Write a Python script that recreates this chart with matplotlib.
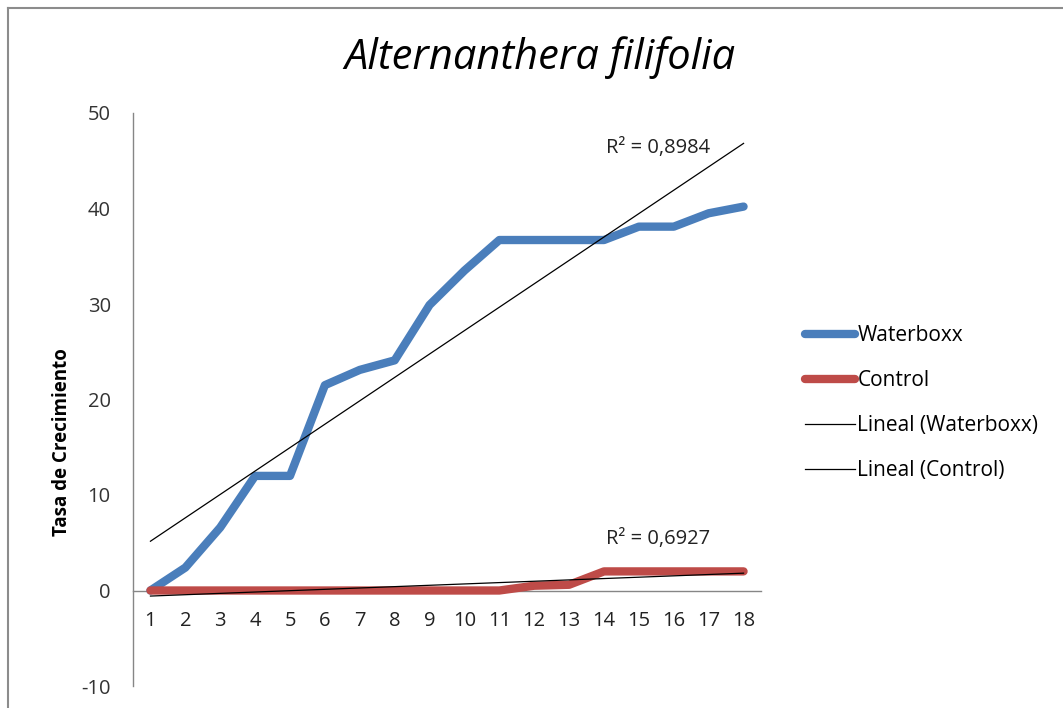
import numpy as np
import matplotlib
matplotlib.use("Agg")
import matplotlib.pyplot as plt
from matplotlib.lines import Line2D

plt.rcParams['font.family'] = ['Open Sans', 'DejaVu Sans']
plt.rcParams['axes.unicode_minus'] = False

# Data
days = list(range(1, 19))
waterboxx = [0, 2.4, 6.6, 12.0, 12.0, 21.5, 23.1, 24.1, 29.9, 33.5, 36.7, 36.7, 36.7, 36.7, 38.1, 38.1, 39.5, 40.2]
control = [0, 0, 0, 0, 0, 0, 0, 0, 0, 0, 0, 0.5, 0.6, 2.0, 2.0, 2.0, 2.0, 2.0]
r2_labels = ["R\u00b2 = 0,8984", "R\u00b2 = 0,6927"]
title = "Alternanthera filifolia"
ylabel = "Tasa de Crecimiento"
legend_labels = ["Waterboxx", "Control", "Lineal (Waterboxx)", "Lineal (Control)"]

W, H = 1063, 708
fig = plt.figure(figsize=(W / 100, H / 100), dpi=100)
ax = fig.add_axes([133 / W, 1 - 686 / H, 628 / W, (686 - 113) / H])

x = np.array(days, dtype=float)
blue = "#4A7EBB"
red = "#BE4B48"

l1, = ax.plot(x, waterboxx, color=blue, lw=6, solid_capstyle='round', solid_joinstyle='round', zorder=3)
l2, = ax.plot(x, control, color=red, lw=6, solid_capstyle='round', solid_joinstyle='round', zorder=3)

# Linear trend lines
pw = np.polyfit(x, waterboxx, 1)
pc = np.polyfit(x, control, 1)
l3, = ax.plot(x, np.polyval(pw, x), color="black", lw=0.9, zorder=4)
l4, = ax.plot(x, np.polyval(pc, x), color="black", lw=0.9, zorder=4)

ax.text(14.05, 46.3, r2_labels[0], fontsize=14.5, ha='left', va='center', color="#222222")
ax.text(14.05, 5.4, r2_labels[1], fontsize=14.5, ha='left', va='center', color="#222222")

ax.set_xlim(0.5, 18.5)
ax.set_ylim(-10, 50)
ax.set_yticks(range(-10, 51, 10))
ax.set_xticks(days)
ax.set_xticklabels([str(d) for d in days])

for s in ['top', 'right']:
    ax.spines[s].set_visible(False)
ax.spines['left'].set_color('#868686')
ax.spines['bottom'].set_color('#868686')
ax.spines['bottom'].set_position(('data', 0))
ax.spines['left'].set_linewidth(1.0)
ax.spines['bottom'].set_linewidth(1.0)
ax.tick_params(axis='y', length=0, pad=16, labelsize=14.5, labelcolor="#333333")
ax.tick_params(axis='x', length=0, pad=15, labelsize=14.5, labelcolor="#222222")

fig.text(540 / W, 1 - 58 / H, title, fontsize=30, style='italic', ha='center', va='center')
fig.text(62 / W, 1 - 442 / H, ylabel, fontsize=13.5, fontweight='bold', rotation=90,
         ha='center', va='center')

leg = ax.legend([l1, l2, l3, l4], legend_labels, loc='upper left',
                bbox_to_anchor=(797 / W, 1 - 317 / H), bbox_transform=fig.transFigure,
                frameon=False, fontsize=15, handlelength=2.4, handletextpad=0.1,
                labelspacing=1.15, borderaxespad=0)

# Chart border
fig.add_artist(Line2D([8 / W, 1], [1 - 8 / H, 1 - 8 / H], color="#8c8c8c", lw=1.5, transform=fig.transFigure))
fig.add_artist(Line2D([8 / W, 8 / W], [1 - 8 / H, 0], color="#8c8c8c", lw=1.5, transform=fig.transFigure))

fig.savefig("out.png", dpi=100)
